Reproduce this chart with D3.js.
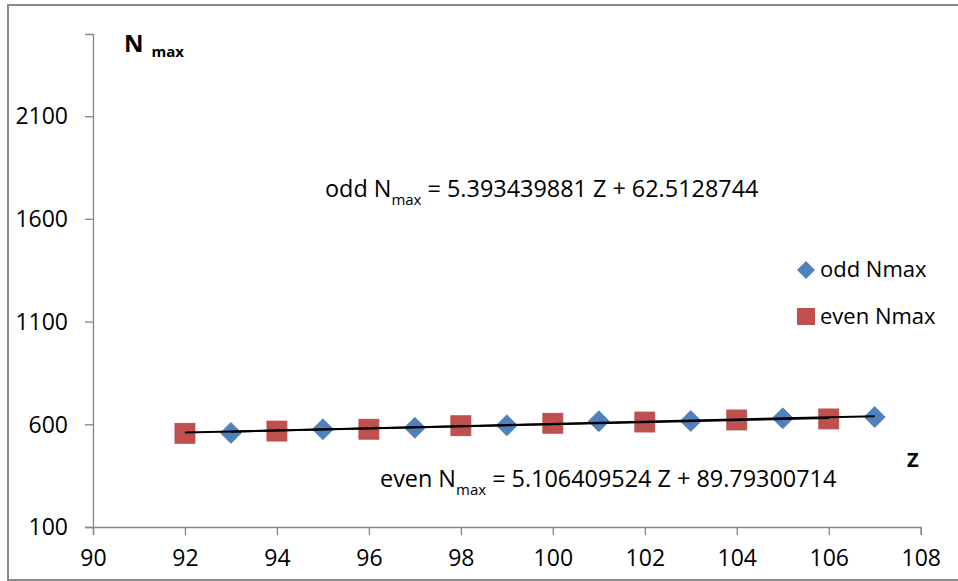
<!DOCTYPE html>
<html>
<head>
<meta charset="utf-8">
<script src="https://cdn.jsdelivr.net/npm/d3@7"></script>
<style>
  body { margin: 0; background: #fff; }
  svg { display: block; font-family: "Open Sans", sans-serif; }
</style>
</head>
<body>
<div id="chart"></div>
<script>
(function () {

  // values
  const oddZ = [93, 95, 97, 99, 101, 103, 105, 107]
  const oddN = [558, 576, 583, 595, 615, 616, 629, 635]
  const evenZ = [92, 94, 96, 98, 100, 102, 104, 106]
  const evenN = [556, 567, 576, 593, 605, 611, 621, 626]

  // trendline coefficients as printed on the chart
  const oddFit = { slope: 5.393439881, icpt: 62.5128744, label: '5.393439881 Z + 62.5128744' }
  const evenFit = { slope: 5.106409524, icpt: 89.79300714, label: '5.106409524 Z + 89.79300714' }

  const xTicks = [90, 92, 94, 96, 98, 100, 102, 104, 106, 108]
  const yTicks = [100, 600, 1100, 1600, 2100]

  const W = 958, H = 581
  const blue = '#4f81bd', red = '#c0504d', axisGrey = '#868686'

  const svg = d3.select('#chart').append('svg')
    .attr('width', W)
    .attr('height', H)

  // outer chart border (right edge runs off the picture)
  svg.append('rect')
    .attr('x', 8).attr('y', 5)
    .attr('width', W + 10).attr('height', 575)
    .attr('fill', 'none')
    .attr('stroke', '#8a8a8a')
    .attr('stroke-width', 2)

  const x = d3.scaleLinear().domain([90, 108]).range([93, 920.7])
  const y = d3.scaleLinear().domain([100, 2500]).range([527, 34])

  const yAxis = svg.append('g')
    .attr('transform', 'translate(' + x(90) + ',0)')
    .call(d3.axisLeft(y).tickValues(yTicks).tickSize(8).tickPadding(17).tickFormat(d3.format('d')))
  const xAxis = svg.append('g')
    .attr('transform', 'translate(0,' + y(100) + ')')
    .call(d3.axisBottom(x).tickValues(xTicks).tickSize(8).tickPadding(14).tickFormat(d3.format('d')))

  for (const g of [xAxis, yAxis]) {
    g.select('.domain').attr('stroke', axisGrey).attr('stroke-width', 1.3)
    g.selectAll('.tick line').attr('stroke', axisGrey).attr('stroke-width', 1.3)
    g.selectAll('.tick text')
      .attr('font-family', '"Open Sans", sans-serif')
      .attr('font-size', 23)
      .attr('fill', '#000')
  }
  yAxis.selectAll('.tick text').attr('dy', '0.34em')
  xAxis.selectAll('.tick text').attr('dy', '0.72em')

  // axis titles
  const nTitle = svg.append('text')
    .attr('x', 124).attr('y', 52)
    .attr('font-weight', 'bold').attr('font-size', 24)
  nTitle.append('tspan').text('N')
  nTitle.append('tspan').attr('dx', 8).attr('dy', 5).attr('font-size', 15).text('max')

  svg.append('text')
    .attr('x', 907).attr('y', 467)
    .attr('font-weight', 'bold').attr('font-size', 20)
    .text('Z')

  // trendlines
  const fits = [
    { fit: oddFit, z: oddZ },
    { fit: evenFit, z: evenZ }
  ]
  svg.selectAll('line.trend')
    .data(fits)
    .join('line')
    .attr('class', 'trend')
    .attr('x1', d => x(d3.min(d.z)))
    .attr('x2', d => x(d3.max(d.z)))
    .attr('y1', d => y(d.fit.slope * d3.min(d.z) + d.fit.icpt))
    .attr('y2', d => y(d.fit.slope * d3.max(d.z) + d.fit.icpt))
    .attr('stroke', '#000')
    .attr('stroke-width', 2)

  const odd = oddZ.map((z, i) => ({ z: z, n: oddN[i] }))
  const even = evenZ.map((z, i) => ({ z: z, n: evenN[i] }))

  const diamond = r => 'M0,' + (-r) + 'L' + r + ',0L0,' + r + 'L' + (-r) + ',0Z'

  svg.selectAll('rect.even')
    .data(even)
    .join('rect')
    .attr('class', 'even')
    .attr('x', d => x(d.z) - 10)
    .attr('y', d => y(d.n) - 10)
    .attr('width', 20).attr('height', 20)
    .attr('fill', red)
    .attr('stroke', '#b94a47').attr('stroke-width', 0.8)

  svg.selectAll('path.odd')
    .data(odd)
    .join('path')
    .attr('class', 'odd')
    .attr('transform', d => 'translate(' + x(d.z) + ',' + y(d.n) + ')')
    .attr('d', diamond(10.5))
    .attr('fill', blue)
    .attr('stroke', '#4a7ab3').attr('stroke-width', 0.8)

  // the two fitted lines are drawn above the markers in the original
  svg.selectAll('line.trend').raise()

  // equations
  function equation (px, py, prefix, fit) {
    const t = svg.append('text')
      .attr('x', px).attr('y', py)
      .attr('font-size', 23.4)
      .attr('fill', '#000')
    t.append('tspan').text(prefix + ' N')
    t.append('tspan').attr('dy', 8).attr('font-size', 15).text('max')
    t.append('tspan').attr('dy', -8).text(' = ' + fit.label)
  }
  equation(325, 197, 'odd', oddFit)
  equation(380, 487, 'even', evenFit)

  // legend
  const legend = svg.append('g')
  legend.append('path')
    .attr('transform', 'translate(806,270)')
    .attr('d', diamond(9))
    .attr('fill', blue)
  legend.append('rect')
    .attr('x', 797).attr('y', 308)
    .attr('width', 18).attr('height', 17)
    .attr('fill', red)
  legend.selectAll('text')
    .data(['odd Nmax', 'even Nmax'])
    .join('text')
    .attr('x', 820)
    .attr('y', (d, i) => 277 + i * 47)
    .attr('font-size', 22)
    .text(d => d)

})();
</script>
</body>
</html>
